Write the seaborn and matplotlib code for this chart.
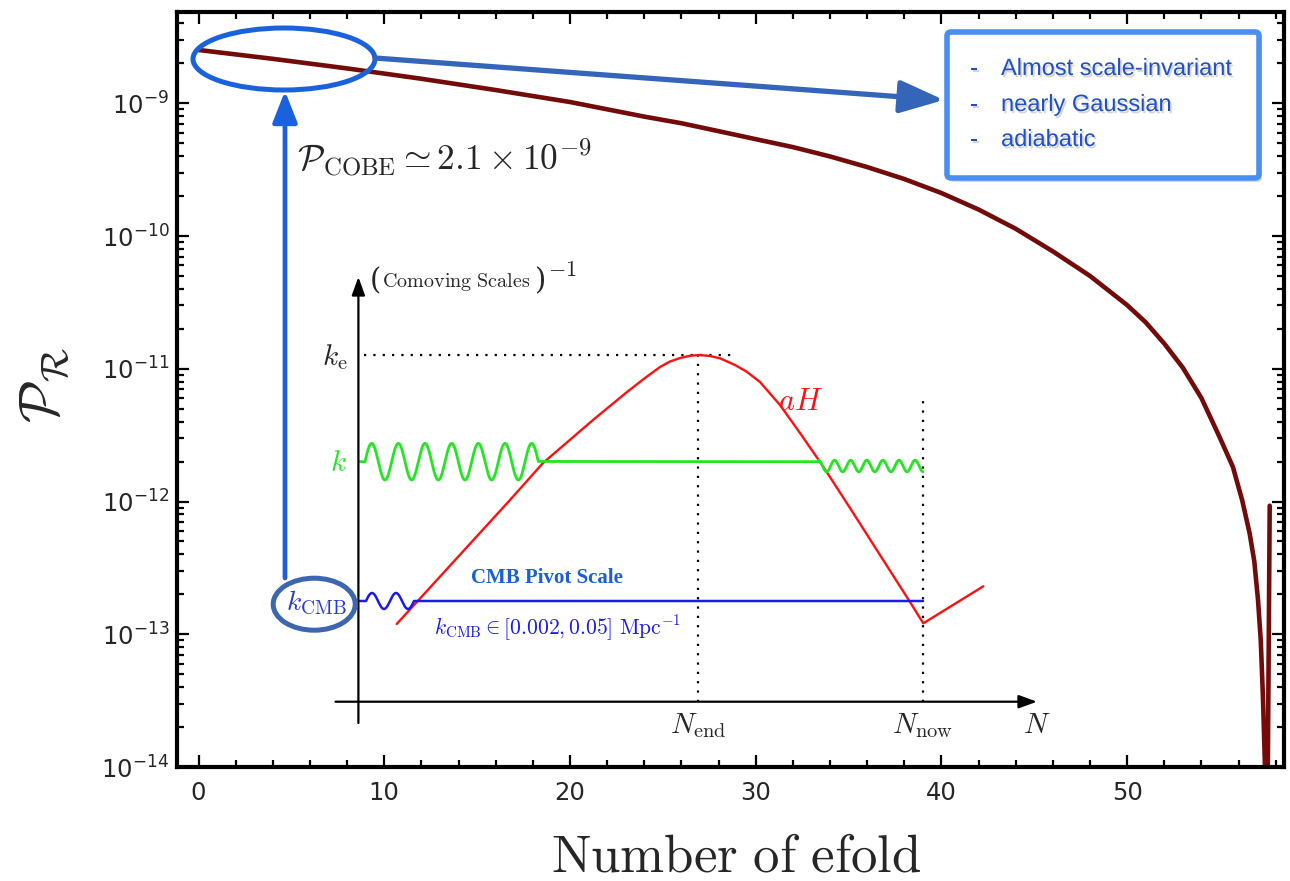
import numpy as np
import matplotlib
matplotlib.use("Agg")
import matplotlib.pyplot as plt
import matplotlib.patheffects as pe
from matplotlib.patches import Ellipse, FancyBboxPatch
from matplotlib.ticker import MultipleLocator, FixedLocator, NullFormatter
import seaborn as sns
import pandas as pd

# ---------------- data ----------------
efolds = [0, 4, 8, 12, 16, 20, 24, 26, 28, 30, 32, 34, 36, 38, 40, 42, 44, 46,
          48, 50, 51, 52, 53, 54, 55, 55.7, 56.2, 56.6, 56.85, 57.05, 57.2,
          57.32, 57.42, 57.47, 57.55, 57.68]
power = [2.523e-9, 2.163e-9, 1.832e-9, 1.531e-9, 1.259e-9, 1.023e-9, 7.94e-10,
         7.08e-10, 6.17e-10, 5.37e-10, 4.68e-10, 3.98e-10, 3.31e-10, 2.69e-10,
         2.11e-10, 1.585e-10, 1.135e-10, 7.67e-11, 5.01e-11, 3.02e-11, 2.24e-11,
         1.55e-11, 1.02e-11, 6.03e-12, 3.02e-12, 1.82e-12, 1.02e-12, 5.75e-13,
         3.55e-13, 1.82e-13, 8.91e-14, 3.24e-14, 1.07e-14, 3.16e-15, 2.5e-15,
         9.3e-13]
x_ticks = [0, 10, 20, 30, 40, 50]
y_ticks = [1e-14, 1e-13, 1e-12, 1e-11, 1e-10, 1e-9]

# inset schematic (inset units)
aH_u = [66.7, 180, 213, 263, 297, 315, 330, 340, 350, 360, 369, 380, 390, 405,
        416.7, 430, 450, 470, 493.3, 520, 550, 580, 593.3, 653.3]
aH_v = [116, 240, 277, 320, 348, 362, 373, 378.5, 382, 384.2, 385, 384, 381.7,
        375, 368.3, 358, 335, 307, 273.3, 232, 185, 138, 116.7, 153.7]
N_end_u, N_now_u = 368, 593
k_e_v = 385
k_level, kcmb_level = 278.3, 139
box_lines = ["Almost scale-invariant", "nearly Gaussian", "adiabatic"]

# ---------------- figure ----------------
sns.set_theme(style="ticks")
plt.rcParams["font.family"] = ["DejaVu Sans"]
plt.rcParams["mathtext.fontset"] = "dejavusans"

W, H = 1290, 881
fig = plt.figure(figsize=(W / 100, H / 100), dpi=100)
fig.patch.set_facecolor("white")

ax = fig.add_axes([177 / W, 1 - 767 / H, (1284 - 177) / W, (767 - 11.7) / H])
df = pd.DataFrame({"N": efolds, "P": power})
sns.lineplot(data=df, x="N", y="P", ax=ax, color="#730b0b", lw=3.3,
             estimator=None, sort=False, solid_joinstyle="round")
ax.set_yscale("log")
ax.set_xlim(-1.16, 58.45)
ax.set_ylim(1e-14, 4.9e-9)
ax.set_xlabel("")
ax.set_ylabel("")
ax.set_xticks(x_ticks)
ax.xaxis.set_minor_locator(MultipleLocator(2))
ax.set_yticks(y_ticks)
minor_y = [m * d for d in y_ticks for m in range(2, 10) if m * d < 4.9e-9]
ax.yaxis.set_minor_locator(FixedLocator(minor_y))
ax.yaxis.set_minor_formatter(NullFormatter())
ax.tick_params(which="both", direction="in", top=True, right=True,
               width=1.6, color="black")
ax.tick_params(which="major", length=8.5, labelsize=17.5)
ax.tick_params(which="minor", length=5)
ax.tick_params(axis="x", pad=10)
ax.tick_params(axis="y", pad=5.5)
for s in ax.spines.values():
    s.set_linewidth(3)
    s.set_color("black")
ax.set_facecolor("white")

fig.text(736 / W, 1 - 871 / H, r"$\mathrm{Number\ of\ efold}$", ha="center",
         va="baseline", fontsize=38, math_fontfamily="cm")
fig.text(45 / W, 1 - 385 / H, r"$\mathcal{P}_\mathcal{R}$", ha="center",
         va="center", rotation=90, fontsize=40, math_fontfamily="cm")

# ---------------- inset schematic ----------------
ins = fig.add_axes([330 / W, 1 - 740 / H, 720 / W, 480 / H])
ins.set_xlim(0, 720)
ins.set_ylim(0, 480)
ins.axis("off")
ins.patch.set_alpha(0)

arrow_kw = dict(arrowstyle="-|>,head_length=0.55,head_width=0.2", color="black",
                lw=1.6, mutation_scale=20, shrinkA=0, shrinkB=0)
ins.annotate("", xy=(28.4, 463), xytext=(28.4, 17), arrowprops=arrow_kw)
ins.annotate("", xy=(707, 38.3), xytext=(5.5, 38.3), arrowprops=arrow_kw)

dot = dict(color="black", lw=1.6, ls=(0, (1, 3.2)))
ins.plot([34, 406], [k_e_v, k_e_v], **dot)
ins.plot([N_end_u, N_end_u], [38, k_e_v], **dot)
ins.plot([N_now_u, N_now_u], [38, 343], **dot)

red, green, blue = "#ff1010", "#22e622", "#1a1aee"
ins.plot(aH_u, aH_v, color=red, lw=1.7, solid_joinstyle="round")

# k mode: oscillating before horizon exit, frozen, oscillating after re-entry
u1 = np.linspace(35, 208.3, 500)
ins.plot(np.r_[30, u1, 488.5],
         np.r_[k_level, k_level + 18.3 * np.sin(2 * np.pi * (u1 - 35) / 26.67), k_level],
         color=green, lw=2.0)
u2 = np.linspace(488.5, 593, 400)
ins.plot(u2, 274 + 5.8 * np.cos(2 * np.pi * (u2 - 488.5) / 16.1), color=green, lw=2.0)

u3 = np.linspace(36, 84, 300)
ins.plot(np.r_[30, u3, N_now_u],
         np.r_[kcmb_level, kcmb_level + 8 * np.sin(2 * np.pi * (u3 - 36) / 24), kcmb_level],
         color=blue, lw=1.8)

ins.text(18, 383, r"$k_{\rm e}$", ha="right", va="center", fontsize=21,
         math_fontfamily="cm")
ins.text(17, 277, r"$k$", ha="right", va="center", fontsize=21, color=green,
         math_fontfamily="cm")
ins.text(471, 338.5, r"$aH$", ha="center", va="center", fontsize=22, color=red,
         math_fontfamily="cm")
ins.text(N_end_u, 7, r"$N_{\rm end}$", ha="center", va="baseline", fontsize=21,
         math_fontfamily="cm")
ins.text(N_now_u, 7, r"$N_{\rm now}$", ha="center", va="baseline", fontsize=21,
         math_fontfamily="cm")
ins.text(706.5, 7, r"$N$", ha="center", va="baseline", fontsize=21,
         math_fontfamily="cm")
ins.text(45, 459, "(", ha="center", va="center", fontsize=21,
         family="DejaVu Serif", fontweight="light")
ins.text(51.7, 458, r"$\mathrm{Comoving\ Scales}$", ha="left", va="center",
         fontsize=14.5, math_fontfamily="cm")
ins.text(211, 459, ")", ha="center", va="center", fontsize=21,
         family="DejaVu Serif", fontweight="light")
ins.text(218, 470, r"$-1$", ha="left", va="center", fontsize=16,
         math_fontfamily="cm")
ins.text(216.7, 161.7, "CMB Pivot Scale", ha="center", va="center", fontsize=15,
         family="Liberation Serif", fontweight="bold", color="#1a5fd6")
ins.text(227.5, 112, r"$k_{\rm CMB} \in [0.002, 0.05]\ \mathrm{Mpc}^{-1}$",
         ha="center", va="center", fontsize=15.5, color=blue, math_fontfamily="cm")

# ---------------- annotation overlay (figure pixels) ----------------
ov = fig.add_axes([0, 0, 1, 1])
ov.set_xlim(0, W)
ov.set_ylim(H, 0)
ov.axis("off")
ov.patch.set_alpha(0)

bright = "#1a62dc"
steel = "#3565b8"
ov.add_patch(Ellipse((284, 59), 182, 62, fill=False, ec=bright, lw=3.6))
ov.add_patch(Ellipse((314.2, 604.2), 82, 52, fill=False, ec="#3d66b0", lw=3.6))
ov.text(316, 603, r"$k_{\rm CMB}$", ha="center", va="center", fontsize=20,
        color="#2a3ad8", math_fontfamily="cm")

ov.annotate("", xy=(285, 91), xytext=(285, 578),
            arrowprops=dict(arrowstyle="-|>,head_length=1.9,head_width=0.75",
                            mutation_scale=10, lw=3.4, color=bright,
                            shrinkA=0, shrinkB=0))
ov.annotate("", xy=(944, 100), xytext=(375, 58),
            arrowprops=dict(arrowstyle="-|>,head_length=2.7,head_width=1.0",
                            mutation_scale=10, lw=3.8, color=steel,
                            shrinkA=0, shrinkB=0))

ov.text(297, 158, r"$\mathcal{P}_{\rm COBE} \simeq 2.1 \times 10^{-9}$",
        ha="left", va="center", fontsize=25.5, math_fontfamily="cm")

# box with drop shadow
ov.add_patch(FancyBboxPatch((950, 36), 312, 146, boxstyle="round,pad=0,rounding_size=4",
                            fc="#999999", ec="none", alpha=0.35, zorder=2))
ov.add_patch(FancyBboxPatch((947, 32), 312, 146, boxstyle="round,pad=0,rounding_size=4",
                            fc="white", ec="#4a8ef0", lw=4, zorder=3))
shadow = [pe.withSimplePatchShadow(offset=(1.2, -1.6), shadow_rgbFace="#888888", alpha=0.35)]
for yy, line in zip([69, 105, 140], box_lines):
    ov.text(974, yy, "-", ha="center", va="center", fontsize=17, color="#1f50c8",
            family="Liberation Sans", zorder=4, path_effects=shadow)
    ov.text(1001, yy, line, ha="left", va="center", fontsize=17, color="#1f50c8",
            family="Liberation Sans", zorder=4, path_effects=shadow)

fig.savefig("out.png", dpi=100, facecolor="white")
